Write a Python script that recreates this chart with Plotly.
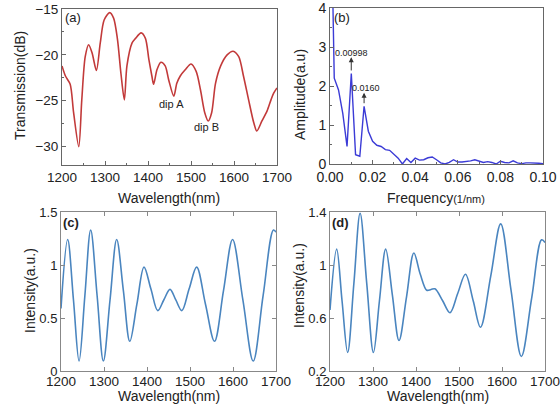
import plotly.graph_objects as go

# ---------------- data ----------------
# (a) transmission spectrum
a_wl = [1200, 1208, 1219, 1227, 1239, 1246, 1254, 1262, 1270, 1280, 1289, 1298, 1311, 1320,
        1329, 1337, 1345, 1351, 1363, 1371, 1384, 1394, 1402, 1409, 1413, 1421, 1430, 1440,
        1448, 1460, 1467, 1475, 1487, 1500, 1512, 1522, 1532, 1540, 1548, 1557, 1569, 1584,
        1598, 1611, 1622, 1634, 1646, 1653, 1665, 1677, 1686, 1692, 1700]
a_db = [-21.2, -22.3, -23.2, -26.3, -30.0, -24.9, -20.2, -18.9, -19.8, -21.7, -18.7, -16.2,
        -15.4, -16.0, -18.3, -22.0, -24.9, -21.2, -18.7, -18.2, -17.6, -18.2, -20.5, -22.3,
        -23.2, -21.6, -20.8, -21.2, -22.7, -24.5, -23.1, -22.3, -21.6, -21.0, -21.8, -23.8,
        -26.3, -27.2, -26.3, -23.1, -21.2, -20.0, -19.6, -20.2, -22.3, -24.9, -27.4, -28.3,
        -27.2, -26.1, -24.9, -24.2, -23.6]

# (b) FFT amplitude
b_freq = [0.0, 0.002, 0.004, 0.006, 0.008, 0.010, 0.012, 0.014, 0.016, 0.018, 0.020, 0.022,
          0.024, 0.026, 0.028, 0.030, 0.032, 0.034, 0.036, 0.038, 0.040, 0.042, 0.044, 0.046,
          0.048, 0.050, 0.052, 0.054, 0.056, 0.058, 0.060, 0.062, 0.064, 0.066, 0.068, 0.070,
          0.072, 0.074, 0.076, 0.078, 0.080, 0.082, 0.084, 0.086, 0.088, 0.090, 0.092, 0.094,
          0.096, 0.098, 0.100]
b_amp = [8.2, 2.2, 1.9, 1.3, 0.45, 2.32, 0.24, 0.2, 1.48, 0.84, 0.58, 0.48,
         0.45, 0.37, 0.35, 0.26, 0.15, 0.0, 0.14, 0.04, 0.15, 0.10, 0.11, 0.16,
         0.18, 0.11, 0.03, 0.0, 0.04, 0.11, 0.05, 0.05, 0.06, 0.08, 0.11, 0.07,
         0.04, 0.06, 0.04, 0.0, 0.07, 0.04, 0.03, 0.08, 0.03, 0.01, 0.03, 0.03,
         0.03, 0.02, 0.01]
b_peak_freqs = [0.00998, 0.0160]
b_peak_labels = ["0.00998", "0.0160"]

# (c) simulated intensity
c_wl = [1200, 1215.5, 1229, 1242, 1255.5, 1269, 1284, 1298.5, 1314, 1329.5, 1345, 1360,
        1376.5, 1393, 1409, 1425, 1439, 1453.5, 1467, 1481, 1498, 1515.5, 1536, 1557,
        1578, 1599, 1623, 1647, 1670, 1694, 1700]
c_int = [0.59, 1.24, 0.67, 0.094, 0.71, 1.33, 0.71, 0.094, 0.67, 1.24, 0.76, 0.28,
         0.63, 0.98, 0.775, 0.57, 0.67, 0.77, 0.67, 0.57, 0.775, 0.98, 0.63, 0.28,
         0.76, 1.24, 0.67, 0.094, 0.71, 1.33, 1.31]

# (d) simulated intensity
d_wl = [1200, 1215.5, 1228, 1241, 1255.5, 1270, 1285.5, 1301, 1315, 1329.5, 1345, 1360.5,
        1378, 1395, 1410, 1425, 1435, 1444, 1462, 1479, 1497, 1515, 1533, 1550,
        1574, 1597, 1621, 1645, 1669, 1692, 1700]
d_int = [0.66, 1.12, 0.73, 0.34, 0.86, 1.39, 0.86, 0.34, 0.73, 1.12, 0.775, 0.43,
         0.76, 1.09, 0.93, 0.81, 0.815, 0.82, 0.73, 0.64, 0.785, 0.93, 0.73, 0.53,
         0.92, 1.31, 0.81, 0.31, 0.75, 1.19, 1.17]

# ---------------- figure ----------------
FONT = "Liberation Sans, Arial, sans-serif"
W, H = 560, 412


def fx(x):
    return x / W


def fy(y):
    return 1 - y / H


def px_x(x0, x1):
    return [fx(x0), fx(x1)]


def px_y(top, bottom):
    return [fy(bottom), fy(top)]


fig = go.Figure()

fig.add_trace(go.Scatter(x=a_wl, y=a_db, mode="lines", xaxis="x", yaxis="y",
                         line=dict(color="#c23a3a", width=1.6, shape="spline", smoothing=0.8),
                         showlegend=False))
fig.add_trace(go.Scatter(x=b_freq, y=b_amp, mode="lines", xaxis="x2", yaxis="y2",
                         line=dict(color="#3b3bd6", width=1.4), showlegend=False))
fig.add_trace(go.Scatter(x=c_wl, y=c_int, mode="lines", xaxis="x3", yaxis="y3",
                         line=dict(color="#4a85bf", width=1.6, shape="spline", smoothing=1.0),
                         showlegend=False))
fig.add_trace(go.Scatter(x=d_wl, y=d_int, mode="lines", xaxis="x4", yaxis="y4",
                         line=dict(color="#4a85bf", width=1.6, shape="spline", smoothing=1.0),
                         showlegend=False))

titlefont = dict(family=FONT, size=14, color="#222")


def origin_frame(size):
    return dict(showline=True, mirror=True, linecolor="#666", linewidth=1,
                ticks="inside", ticklen=4, tickcolor="#666", showgrid=False,
                zeroline=False, tickfont=dict(family=FONT, size=size, color="#222"),
                automargin=False, ticklabeloverflow="allow")


def matlab_frame(size):
    return dict(showline=True, mirror="ticks", linecolor="#888", linewidth=1,
                ticks="inside", ticklen=4, tickcolor="#888", showgrid=False,
                zeroline=False, tickfont=dict(family=FONT, size=size, color="#222"),
                automargin=False, ticklabeloverflow="allow")


layout = dict(
    width=W, height=H, margin=dict(l=0, r=0, t=0, b=0),
    paper_bgcolor="white", plot_bgcolor="white",
    font=dict(family=FONT, color="#222"),
    # (a)
    xaxis=dict(domain=px_x(62, 277), anchor="y", range=[1200, 1700], tickvals=[1200, 1300, 1400, 1500, 1600, 1700],
               minor=dict(tickvals=[1250, 1350, 1450, 1550, 1650], ticks="inside", ticklen=2, tickcolor="#666"),
               **origin_frame(13.5)),
    yaxis=dict(domain=px_y(9, 165), anchor="x", range=[-32, -15], tickvals=[-30, -25, -20, -15],
               minor=dict(tickvals=[-27.5, -22.5, -17.5], ticks="inside", ticklen=2, tickcolor="#666"),
               **origin_frame(13.5)),
    # (b)
    xaxis2=dict(domain=px_x(330, 543), anchor="y2", range=[0, 0.1], tickvals=[0, 0.02, 0.04, 0.06, 0.08, 0.1],
                ticktext=["0.00", "0.02", "0.04", "0.06", "0.08", "0.10"],
                minor=dict(tickvals=[0.01, 0.03, 0.05, 0.07, 0.09], ticks="inside", ticklen=2, tickcolor="#666"),
                **origin_frame(14)),
    yaxis2=dict(domain=px_y(8, 164), anchor="x2", range=[0, 4], tickvals=[0, 1, 2, 3, 4],
                minor=dict(tickvals=[0.5, 1.5, 2.5, 3.5], ticks="inside", ticklen=2, tickcolor="#666"),
                **origin_frame(14)),
    # (c)
    xaxis3=dict(domain=px_x(61, 276), anchor="y3", range=[1200, 1700], tickvals=[1200, 1300, 1400, 1500, 1600, 1700],
                ticklabelstandoff=-2, **matlab_frame(13.5)),
    yaxis3=dict(domain=px_y(212, 371), anchor="x3", range=[0, 1.5], tickvals=[0, 0.5, 1, 1.5],
                ticktext=["0", "0.5", "1", "1.5"], **matlab_frame(13)),
    # (d)
    xaxis4=dict(domain=px_x(330, 545), anchor="y4", range=[1200, 1700], tickvals=[1200, 1300, 1400, 1500, 1600, 1700],
                ticklabelstandoff=-2, **matlab_frame(13.5)),
    yaxis4=dict(domain=px_y(212, 371), anchor="x4", range=[0.2, 1.4], tickvals=[0.2, 0.6, 1, 1.4],
                ticktext=["0.2", "0.6", "1", "1.4"], **matlab_frame(13)),
)
fig.update_layout(**layout)

ann = []
# axis titles (placed by paper position)
titles = [
    ("Wavelength(nm)", 169, 198, 0),
    ("Transmission(dB)", 20, 86, -90),
    ("Frequency<span style='font-size:11px'>(1/nm)</span>", 436, 198, 0),
    ("Amplitude(a.u)", 300, 95, -90),
    ("Wavelength(nm)", 169, 396, 0),
    ("Intensity(a.u.)", 30, 291, -90),
    ("Wavelength(nm)", 438, 396, 0),
    ("Intensity(a.u.)", 299, 286, -90),
]
for text, x, y, ang in titles:
    ann.append(dict(text=text, x=fx(x), y=fy(y), xref="paper", yref="paper", showarrow=False,
                    xanchor="center", yanchor="middle", textangle=ang, font=titlefont))

# panel labels
ann.append(dict(text="(a)", x=1226, y=-15.9, xref="x", yref="y", showarrow=False,
                font=dict(family=FONT, size=13, color="#222")))
ann.append(dict(text="(b)", x=0.0058, y=3.75, xref="x2", yref="y2", showarrow=False,
                font=dict(family=FONT, size=13, color="#222")))
ann.append(dict(text="<b>(c)</b>", x=1223, y=1.40, xref="x3", yref="y3", showarrow=False,
                font=dict(family=FONT, size=13, color="#222")))
ann.append(dict(text="<b>(d)</b>", x=1225, y=1.32, xref="x4", yref="y4", showarrow=False,
                font=dict(family=FONT, size=13, color="#222")))
# dip labels
ann.append(dict(text="dip A", x=1455, y=-25.4, xref="x", yref="y", showarrow=False,
                font=dict(family=FONT, size=11, color="#222")))
ann.append(dict(text="dip B", x=1537, y=-27.9, xref="x", yref="y", showarrow=False,
                font=dict(family=FONT, size=11, color="#222")))
# FFT peak arrows and labels
arrow_tails = [2.36, 1.52]
arrow_heads = [2.74, 1.83]
label_y = [2.84, 1.94]
label_x = [0.0103, 0.0167]
for f, lab, t, hd, ly, lx in zip(b_peak_freqs, b_peak_labels, arrow_tails, arrow_heads, label_y, label_x):
    ann.append(dict(x=f, y=hd, ax=f, ay=t, xref="x2", yref="y2", axref="x2", ayref="y2",
                    text="", showarrow=True, arrowhead=2, arrowsize=1, arrowwidth=1, arrowcolor="#333"))
    ann.append(dict(text=lab, x=lx, y=ly, xref="x2", yref="y2", showarrow=False,
                    font=dict(family=FONT, size=9, color="#222")))
fig.update_layout(annotations=ann)

# remove the default 8px page margin so the 560x412 figure fills the window
fig.write_html("out.html", config={"displayModeBar": False},
               post_script="document.body.style.margin='0';")
